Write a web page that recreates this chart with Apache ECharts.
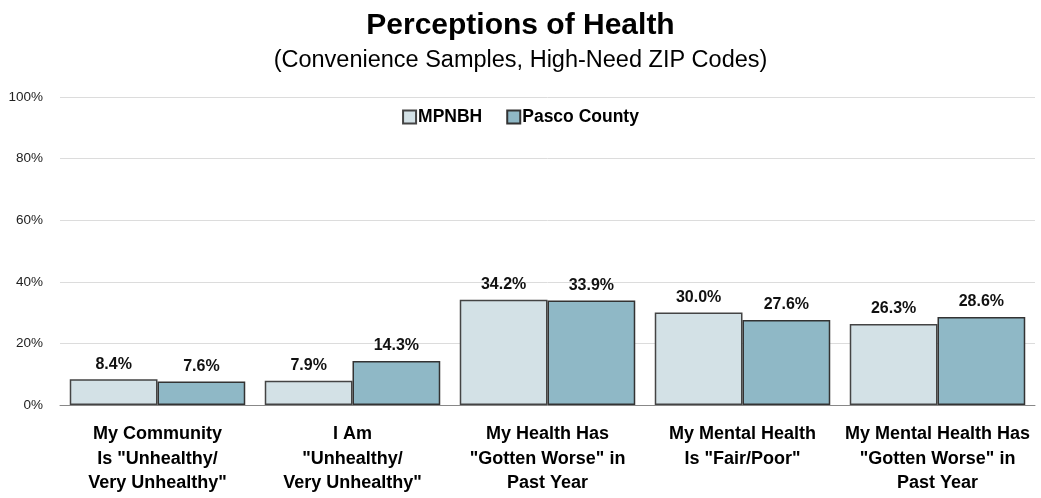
<!DOCTYPE html>
<html><head><meta charset="utf-8">
<script src="https://cdn.jsdelivr.net/npm/echarts@6/dist/echarts.min.js"></script>
<style>html,body{margin:0;padding:0;background:#fff}#c{width:1041px;height:498px}</style>
</head><body><div id="c"></div>
<script>
const categories = ['My Community\nIs "Unhealthy/\nVery Unhealthy"', 'I Am\n"Unhealthy/\nVery Unhealthy"', 'My Health Has\n"Gotten Worse" in\nPast Year', 'My Mental Health\nIs "Fair/Poor"', 'My Mental Health Has\n"Gotten Worse" in\nPast Year'];
const mpnbh = [8.4, 7.9, 34.2, 30.0, 26.3];
const pasco = [7.6, 14.3, 33.9, 27.6, 28.6];
const seriesNames = ['MPNBH', 'Pasco County'];
const F = '"Liberation Sans", Arial, sans-serif';
const chart = echarts.init(document.getElementById('c'));
const lbl = {show:true, position:'top', distance:7, formatter: p => p.value.toFixed(1) + '%', fontFamily:F, fontWeight:'bold', fontSize:16, color:'#111'};
chart.setOption({
  animation:false,
  title:[{text:'Perceptions of Health', left:'center', top:6, textStyle:{fontFamily:F, fontWeight:'bold', fontSize:30, color:'#000'}},
         {text:'(Convenience Samples, High-Need ZIP Codes)', left:'center', top:44, textStyle:{fontFamily:F, fontWeight:'normal', fontSize:23.5, color:'#000'}}],
  legend:{top:103, left:'center', itemWidth:13, itemHeight:13, itemGap:24, icon:'rect', textStyle:{fontFamily:F, fontWeight:'bold', fontSize:17.5, color:'#000', padding:[0,0,0,-3]}, data:seriesNames},
  grid:{left:60, right:6, top:97, bottom:93, containLabel:false, outerBoundsMode:'none'},
  xAxis:{type:'category', data:categories, axisTick:{show:false}, axisLine:{lineStyle:{color:'#888'}},
    axisLabel:{interval:0, fontFamily:F, fontWeight:'bold', fontSize:18, color:'#000', lineHeight:24.5, margin:17}},
  yAxis:{type:'value', min:0, max:100, interval:20, axisLabel:{formatter:'{value}%', fontFamily:F, fontSize:13.5, color:'#222', margin:17},
    splitLine:{lineStyle:{color:'#dcdcdc'}}, axisLine:{show:false}},
  series:[
    {name:seriesNames[0], type:'bar', data:mpnbh, barGap:'0%', barCategoryGap:'10%', itemStyle:{color:'#d3e1e6', borderColor:'#444', borderWidth:1.5}, label:lbl},
    {name:seriesNames[1], type:'bar', data:pasco, itemStyle:{color:'#8fb8c6', borderColor:'#333', borderWidth:1.5}, label:lbl}
  ]
});
</script></body></html>
